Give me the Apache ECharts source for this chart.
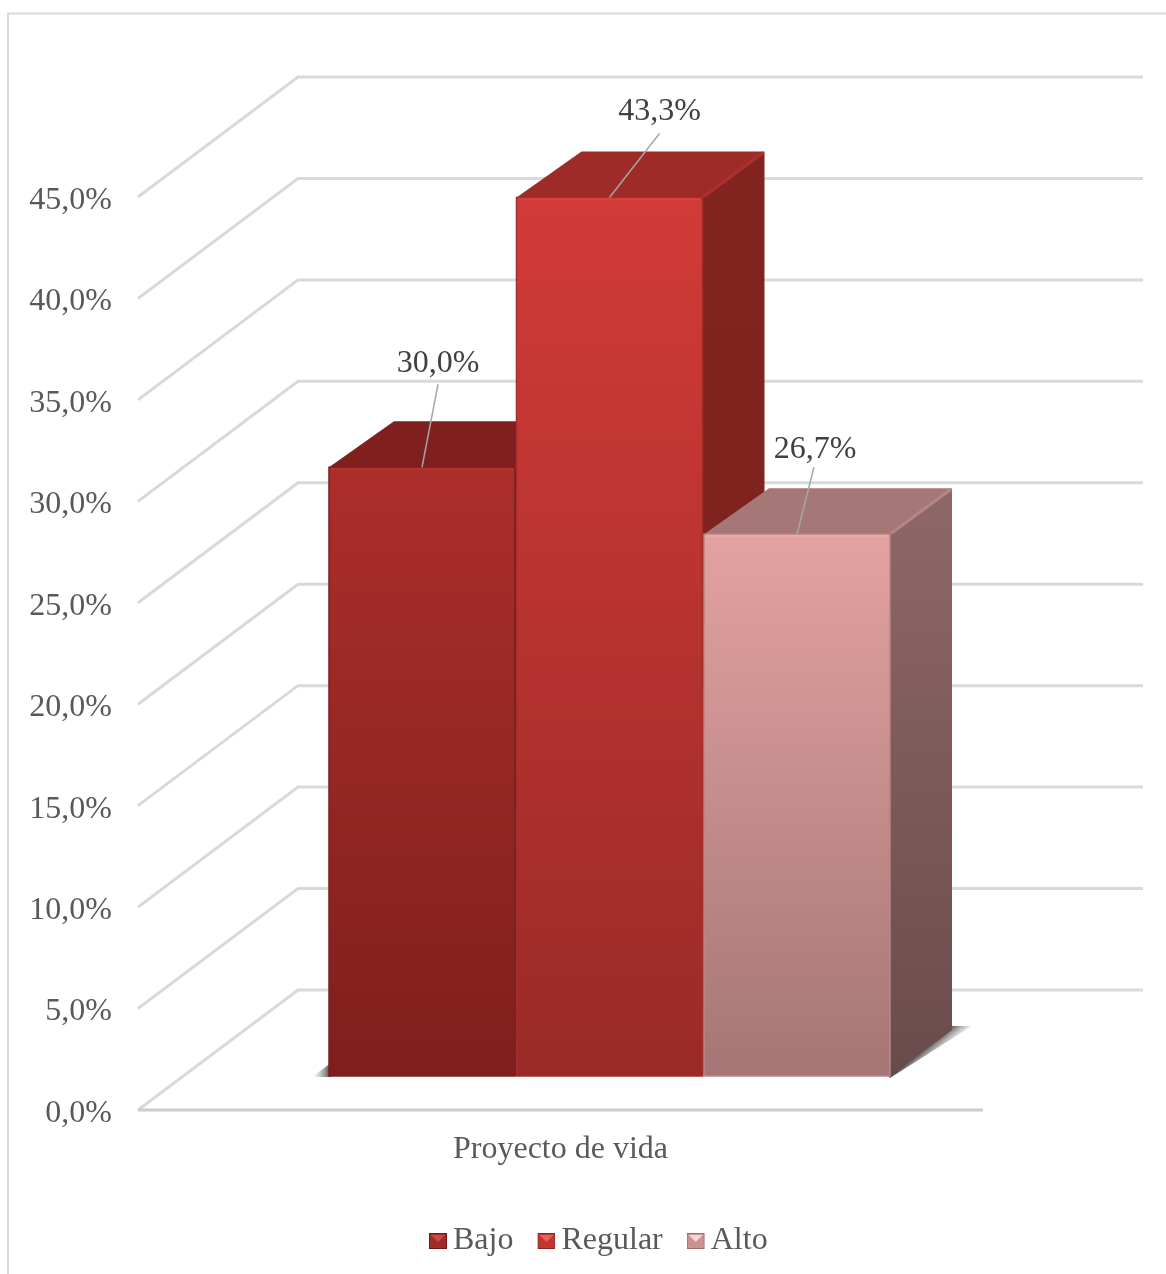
<!DOCTYPE html>
<html>
<head>
<meta charset="utf-8">
<style>html,body{margin:0;padding:0;background:#fff}#c{width:1166px;height:1274px}</style>
<script src="https://cdn.jsdelivr.net/npm/echarts@6/dist/echarts.min.js"></script>
</head>
<body>
<div id="c"></div>
<script>
const categories = ['Proyecto de vida'];
const seriesNames = ['Bajo', 'Regular', 'Alto'];
const bajoValues = [30.0];
const regularValues = [43.3];
const altoValues = [26.7];
const yTicks = [0, 5, 10, 15, 20, 25, 30, 35, 40, 45];

const FONT = '"Liberation Serif","Times New Roman",serif';
const WALL = [160, -120];          // floor depth of the 3D plot box
const BAR_DEPTH = [62, -46];       // depth of each bar's right edge
const BAR_DEPTH_LEFT = 65;         // slight perspective on the left edge
const BAR_LIFT = -34;              // bars stand inset on the floor
const BAR_START = -231.5, BAR_STEP = 187.5, BAR_W = 186;
const labelOffsets = [[16, -104], [50, -86], [18, -85]];
const leaderEnds = [[16, -83], [50, -64], [17, -67]];
const palette = [
  {front: ['#AC2E2B', '#7E1F1D'], top: '#7F201E', side: ['#7F201E', '#7F201E'], edge: '#8A2421', rim: '#7A1E1C', light: '#B5322F', hi: '#CC4A46', body: '#A02B28', lo: '#6E1A18'},
  {front: ['#D23B37', '#9A2A27'], top: '#9E2B28', side: ['#82241F', '#7A211E'], edge: '#AC302D', rim: '#A32D2A', light: '#D8403C', hi: '#E8605C', body: '#C23632', lo: '#8C2522'},
  {front: ['#E3A2A1', '#A57675'], top: '#A67777', side: ['#8E6868', '#6A4B4B'], edge: '#B88585', rim: '#B88686', light: '#EAACAB', hi: '#F5D6D6', body: '#C99393', lo: '#9A6E6E'}
];

function pct(v) { return v.toFixed(1).replace('.', ',') + '%'; }
function grad(c) {
  return new echarts.graphic.LinearGradient(0, 0, 0, 1, [{offset: 0, color: c[0]}, {offset: 1, color: c[1]}]);
}
function fade(x1, y1, x2, y2) {
  return new echarts.graphic.LinearGradient(x1, y1, x2, y2, [
    {offset: 0, color: 'rgba(70,70,70,0.95)'},
    {offset: 1, color: 'rgba(150,150,150,0)'}
  ], true);
}
function legendIcon(p) {
  const svg = "<svg xmlns='http://www.w3.org/2000/svg' width='18' height='16'>" +
    "<rect width='18' height='16' fill='" + p.lo + "'/>" +
    "<rect x='1' y='1' width='16' height='14' fill='" + p.body + "'/>" +
    "<polygon points='2,2 16,2 9,9' fill='" + p.hi + "'/></svg>";
  return 'image://data:image/svg+xml;charset=utf-8,' + encodeURIComponent(svg);
}

function renderWall(params, api) {
  const v = api.value(0);
  const a = api.coord([0, v]);
  const band = api.size([1, 0])[0];
  const fx = a[0] - band / 2, y = a[1];
  const bx = fx + WALL[0], by = y + WALL[1];
  const children = [{
    type: 'polyline',
    shape: {points: [[fx, y], [bx, by], [bx + band, by]]},
    style: {stroke: '#D9D9D9', lineWidth: 3, fill: null}
  }];
  if (v === 0) {
    children.push({
      type: 'line',
      shape: {x1: fx, y1: y, x2: fx + band, y2: y},
      style: {stroke: '#CDCDCD', lineWidth: 3}
    });
  }
  return {type: 'group', children: children};
}

function renderShadow(params, api) {
  const c = api.coord([0, 0]);
  const x = c[0] + BAR_START, y = c[1] + BAR_LIFT;
  const r = x + 2 * BAR_STEP + BAR_W;
  const bx = r + BAR_DEPTH[0], by = y + BAR_DEPTH[1];
  const mx = (r + bx) / 2, my = (y + by) / 2;
  return {type: 'group', children: [
    {type: 'polygon', shape: {points: [[x + 2, y - 13], [x - 17, y + 1], [x + 2, y + 1]]},
      style: {fill: fade(x + 1, y, x - 16, y)}},
    {type: 'polygon', shape: {points: [[r, y + 2], [bx + 20, by - 4], [bx - 2, by - 4], [r - 2, y]]},
      style: {fill: fade(mx - 1, my - 1, mx + 9, my + 11)}}
  ]};
}

function makeBarRenderer(i) {
  const p = palette[i];
  return function (params, api) {
    const value = api.value(1);
    const cx = api.coord([0, 0])[0];
    const y0 = api.coord([0, 0])[1] + BAR_LIFT;
    const yt = api.coord([0, value])[1] + BAR_LIFT;
    const x = cx + BAR_START + i * BAR_STEP;
    const w = BAR_W, dx = BAR_DEPTH[0], dy = BAR_DEPTH[1];
    const mx = x + w / 2;
    const lo = labelOffsets[i], le = leaderEnds[i];
    return {type: 'group', children: [
      {type: 'polygon', shape: {points: [[x + w, yt], [x + w + dx, yt + dy], [x + w + dx, y0 + dy], [x + w, y0]]},
        style: {fill: grad(p.side)}},
      {type: 'polygon', shape: {points: [[x, yt], [x + BAR_DEPTH_LEFT, yt + dy], [x + w + dx, yt + dy], [x + w, yt]]},
        style: {fill: p.top}},
      {type: 'line', shape: {x1: x + w + 2, y1: yt - 1.5, x2: x + w + dx - 1, y2: yt + dy + 1},
        style: {stroke: p.edge, lineWidth: 3}},
      {type: 'rect', shape: {x: x, y: yt, width: w, height: y0 - yt},
        style: {fill: grad(p.front), stroke: p.rim, lineWidth: 1.5}},
      {type: 'line', shape: {x1: x + 2, y1: yt + 1.5, x2: x + w - 2, y2: yt + 1.5},
        style: {stroke: p.light, lineWidth: 2}},
      {type: 'line', shape: {x1: mx, y1: yt, x2: mx + le[0], y2: yt + le[1]},
        style: {stroke: '#A6A6A6', lineWidth: 1.5}},
      {type: 'text', style: {x: mx + lo[0], y: yt + lo[1], text: pct(value), fill: '#404040',
        font: '32px ' + FONT, textAlign: 'center', textVerticalAlign: 'middle'}}
    ]};
  };
}

const barSources = [bajoValues, regularValues, altoValues];
const barSeries = seriesNames.map(function (name, i) {
  return {
    type: 'custom', name: name, silent: true, clip: false, z: 3 + i,
    itemStyle: {color: palette[i].front[0]},
    data: barSources[i].map(function (v, k) { return [k, v]; }),
    renderItem: makeBarRenderer(i)
  };
});

const chart = echarts.init(document.getElementById('c'), null, {renderer: 'canvas'});
chart.setOption({
  animation: false,
  backgroundColor: '#fff',
  grid: {left: 138, right: 183, top: 197, bottom: 164, containLabel: false},
  xAxis: {
    type: 'category', data: categories,
    axisLine: {show: false}, axisTick: {show: false}, splitLine: {show: false},
    axisLabel: {color: '#595959', fontFamily: FONT, fontSize: 32, margin: 24}
  },
  yAxis: {
    type: 'value', min: 0, max: 45, interval: 5,
    axisLine: {show: false}, axisTick: {show: false}, splitLine: {show: false},
    axisLabel: {color: '#595959', fontFamily: FONT, fontSize: 32, margin: 26, verticalAlign: 'top', lineHeight: 7, formatter: pct}
  },
  legend: {
    left: 429, top: 1225, itemWidth: 18, itemHeight: 16, itemGap: 24, padding: 0,
    textStyle: {color: '#595959', fontFamily: FONT, fontSize: 32, padding: [0, 0, 0, 1]},
    data: seriesNames.map(function (n, i) { return {name: n, icon: legendIcon(palette[i])}; })
  },
  graphic: [{
    type: 'polyline', silent: true,
    shape: {points: [[8, 1274], [8, 13.5], [1166, 13.5]]},
    style: {stroke: '#D9D9D9', lineWidth: 2, fill: null}
  }],
  series: [
    {type: 'custom', name: 'walls', silent: true, clip: false, z: 1, data: yTicks.map(function (t) { return [t]; }),
      encode: {y: 0}, renderItem: renderWall},
    {type: 'custom', name: 'floorShadow', silent: true, clip: false, z: 2, data: [[0, 0]],
      renderItem: renderShadow}
  ].concat(barSeries)
});
</script>
</body>
</html>
